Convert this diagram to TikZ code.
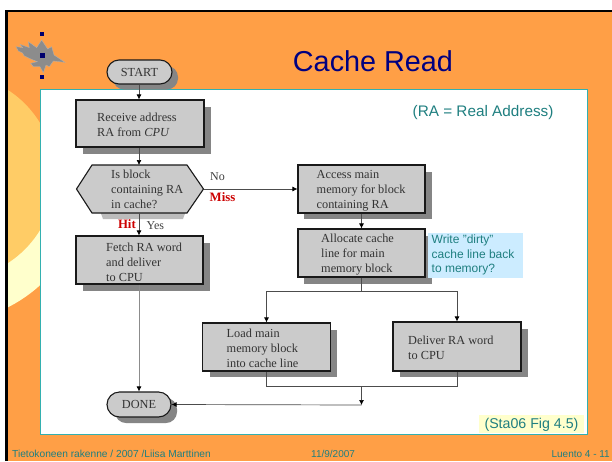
\documentclass[tikz,border=0pt]{standalone}
\usepackage{fontspec}
\setmainfont{Liberation Serif}
\setsansfont{Liberation Sans}
\usetikzlibrary{arrows.meta,shapes.misc,calc}
\definecolor{bgorange}{HTML}{FF9F46}
\definecolor{teal1}{HTML}{1F7F80}
\definecolor{panelline}{HTML}{33B0B0}
\definecolor{flowgrey}{HTML}{CBCBCB}
\definecolor{shadowgrey}{HTML}{858585}
\definecolor{navy1}{HTML}{000080}
\definecolor{circA}{HTML}{FFCC66}
\definecolor{circB}{HTML}{FFFFCC}
\definecolor{noteblue}{HTML}{CCECFF}
\definecolor{noteyellow}{HTML}{FFFFCC}
\definecolor{logogrey}{HTML}{8C8C8C}
\tikzset{
  x=1pt,y=-1pt,
  flowtxt/.style={font=\fontsize{12.3}{15}\selectfont\rmfamily,text=black!80,align=left,anchor=north west,inner sep=0pt},
  boxshape/.style={draw=black!90,line width=1.1pt,fill=flowgrey},
  shad/.style={fill=shadowgrey,draw=none},
  conn/.style={draw=black!70,line width=0.7pt},
  arr/.style={conn,-{Latex[length=5pt,width=5pt,black]}},
  tealtxt/.style={font=\sffamily,text=teal1,inner sep=0pt},
  redtxt/.style={font=\fontsize{12.8}{14}\selectfont\rmfamily\bfseries,text=red!80!black,inner sep=0pt},
  lbl/.style={font=\fontsize{12}{14}\selectfont\rmfamily,text=black!75,inner sep=0pt},
  flowbox/.style={boxshape,rectangle,inner sep=0pt,minimum width=128pt,minimum height=48pt},
  termnode/.style={boxshape,rounded rectangle,inner sep=0pt,minimum width=65pt,minimum height=24pt,font=\fontsize{12.3}{14}\selectfont\rmfamily,text=black!80}
}
\begin{document}
\begin{tikzpicture}
\useasboundingbox (0,0) rectangle (612,461);
% page
\fill[white] (0,0) rectangle (612,461);
\fill[bgorange] (6,11) rectangle (612,461);
% decorative circles
\begin{scope}
\clip (8,150) rectangle (41,320);
\fill[circB] (-58,177) circle[radius=146];
\end{scope}
\begin{scope}
\clip (8,80) rectangle (41,320);
\fill[circA] (-48,176.5) circle[radius=103];
\end{scope}
\draw[black,line width=2.4pt] (6.5,461) -- (6.5,11) -- (612,11);
% panel
\draw[panelline,line width=1pt,fill=white] (40.5,89.5) rectangle (587,434.7);
% logo
\begin{scope}[shift={(10,25)},x=0.3333pt,y=-0.3333pt]
\fill[logogrey,draw=gray!60,line width=0.3pt] (18,65) -- (38,68) -- (30,58) -- (58,68) -- (55,50) -- (80,68) -- (95,45)
 -- (113,72) -- (125,65) -- (132,90) -- (165,112) -- (130,108) -- (118,125) -- (108,120) -- (100,143) -- (90,125) -- (70,125)
 -- (62,115) -- (82,110) -- (58,100) -- (42,92) -- (38,84) -- (25,78) -- cycle;
\end{scope}
\foreach \yy/\s in {34/2,55/2.5,77/2}{
  \fill[navy1!85!black] ($(42,\yy)+(-\s,-\s)$) rectangle ($(42,\yy)+(\s,\s)$);
}
% title
\node[font=\fontsize{28.8}{32}\selectfont\sffamily,text=navy1,inner sep=0pt] (title) at (373,61.5) {Cache Read};
% shadows
\fill[shad,rounded corners=11pt] (113,66) rectangle (178,89.5);
\fill[shad] (83,107) rectangle (210.5,154);
\fill[shad,opacity=.55] (96,200) -- (190,200) -- (183,219) -- (103,219) -- cycle;
\fill[shad] (83,243) rectangle (209.5,290.5);
\fill[shad] (304,172) rectangle (432,219);
\fill[shad] (304,236) rectangle (432,283.5);
\fill[shad] (210,330) rectangle (337,377);
\fill[shad] (400,329) rectangle (528,377);
\fill[shad,rounded corners=11pt] (115,398) rectangle (177,423);
% nodes
\node[termnode] (start) at (139.5,72) {START};
\node[flowbox,minimum width=128pt,minimum height=47pt] (recv) at (140,123.5) {};
\draw[boxshape] (76.5,189) -- (92,165) -- (187,165) -- (203.5,189) -- (187,213) -- (92,213) -- cycle;
\coordinate (hexr) at (203.5,189);
\coordinate (hext) at (139,165);
\coordinate (hexb) at (139,213);
\node[flowbox,minimum width=127pt] (fetch) at (139.5,260) {};
\node[flowbox,minimum width=127pt] (access) at (361.5,189) {};
\node[flowbox,minimum width=127pt] (alloc) at (361.5,253) {};
\node[flowbox] (load) at (266.5,347) {};
\node[flowbox,minimum height=49pt] (deliver) at (457,346.5) {};
\node[termnode,minimum width=64pt,minimum height=25pt] (done) at (139,404.5) {DONE};
% node texts
\node[flowtxt] (t1) at (97,112.5) {Receive address\\RA from \textit{CPU}};
\node[flowtxt] (t2) at (111,170) {Is block\\containing RA\\in cache?};
\node[flowtxt] (t3) at (106,243) {Fetch RA word\\and deliver\\to CPU};
\node[flowtxt] (t4) at (316.5,170) {Access main\\memory for block\\containing RA};
\node[flowtxt] (t5) at (321,233.5) {Allocate cache\\line for main\\memory block};
\node[flowtxt] (t6) at (226.5,329) {Load main\\memory block\\into cache line};
\node[flowtxt] (t7) at (408,336) {Deliver RA word\\to CPU};
% connectors
\draw[arr] (start.south -| hext) -- (recv.north -| hext);
\draw[arr] (recv.south -| hext) -- (hext);
\draw[arr] (hexb) -- (fetch.north -| hexb);
\draw[arr] (hexr) -- (access.west);
\draw[arr] (access.south) -- (alloc.north);
\coordinate (split) at (361.5,291);
\coordinate (joinl) at (266.5,386);
\coordinate (joinr) at (457,386);
\coordinate (joinm) at (361.5,386);
\coordinate (joinb) at (361.5,405);
\draw[conn] (alloc.south) -- (split);
\draw[arr] (split) -| (load.north);
\draw[arr] (split) -| (deliver.north);
\draw[conn] (load.south) -- (joinl) -- (joinr) -- (deliver.south);
\draw[arr] (joinm) -- (joinb);
\draw[arr] (joinb) -- (done.east);
\draw[arr,black!45] (fetch.south -| hexb) -- (done.north -| hexb);
% labels
\node[lbl,anchor=west] (no) at (210,177) {No};
\node[redtxt,anchor=west] (miss) at (209.5,197) {Miss};
\node[redtxt,anchor=east] (hit) at (136,224.5) {Hit};
\node[lbl,anchor=west] (yes) at (146.5,226) {Yes};
% notes
\node[tealtxt,anchor=west,font=\fontsize{15.3}{17}\selectfont\sffamily] (ra) at (412.5,113) {(RA = Real Address)};
\fill[noteblue] (428,233) rectangle (523,278);
\node[tealtxt,anchor=north west,align=left,font=\fontsize{12}{14.6}\selectfont\sffamily] (dirty) at (431.5,234.5) {Write "dirty"\\cache line back\\to memory?};
\fill[noteyellow] (479,415) rectangle (584,433);
\node[tealtxt,anchor=center,font=\fontsize{14.2}{16}\selectfont\sffamily] (sta) at (531.5,424.5) {(Sta06 Fig 4.5)};
% footer
\node[tealtxt,anchor=west,font=\fontsize{10.2}{12}\selectfont\sffamily] (f1) at (12,453.5) {Tietokoneen rakenne / 2007 /Liisa Marttinen};
\node[tealtxt,anchor=west,font=\fontsize{10}{12}\selectfont\sffamily] (f2) at (311,453.5) {11/9/2007};
\node[tealtxt,anchor=east,font=\fontsize{10}{12}\selectfont\sffamily] (f3) at (610,454) {Luento 4 - 11};
\end{tikzpicture}
\end{document}
